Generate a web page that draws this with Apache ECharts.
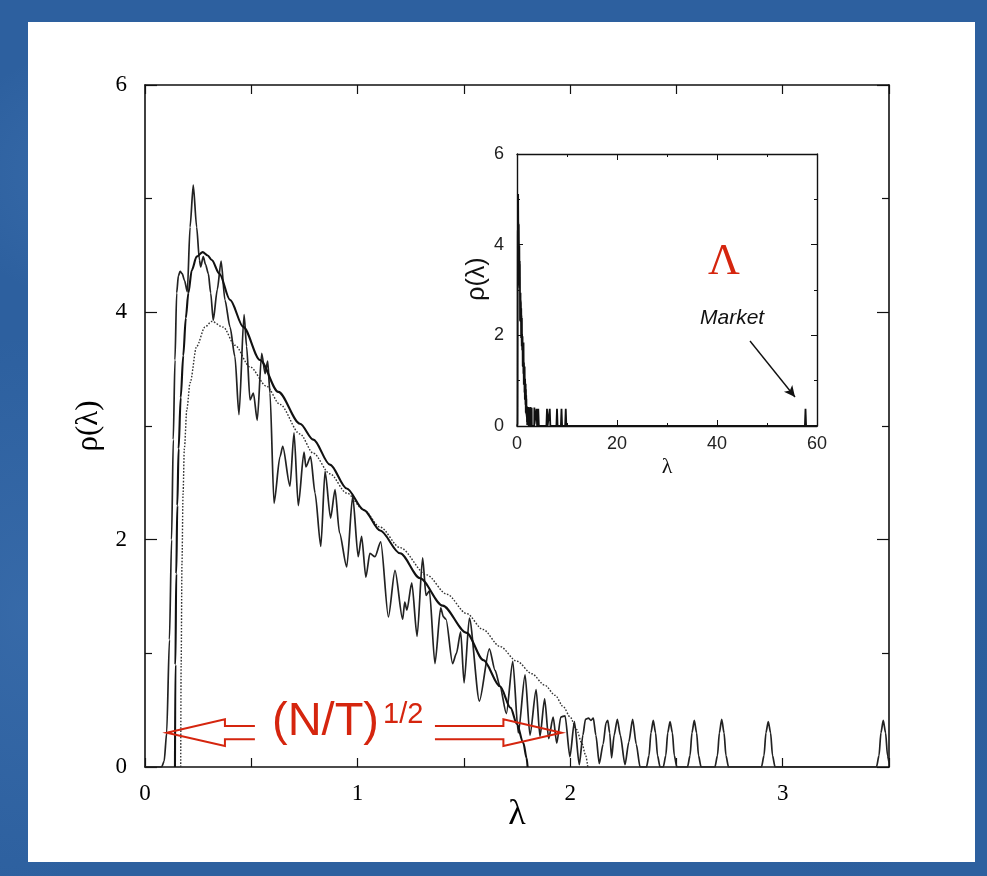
<!DOCTYPE html>
<html>
<head>
<meta charset="utf-8">
<title>Eigenvalue density</title>
<script src="https://cdn.jsdelivr.net/npm/echarts@6/dist/echarts.min.js"></script>
<style>
  html, body { margin: 0; padding: 0; width: 987px; height: 876px; overflow: hidden; }
  body {
    background:
      radial-gradient(ellipse 300px 200px at 15% 20%, rgba(120,170,230,.18), transparent 70%),
      radial-gradient(ellipse 260px 320px at 85% 75%, rgba(20,50,100,.25), transparent 70%),
      radial-gradient(ellipse 200px 400px at 2% 70%, rgba(110,160,220,.15), transparent 70%),
      #2d609f;
  }
  #panel { position: absolute; left: 28px; top: 22px; width: 947px; height: 840px; background: #fff; }
  #chart { position: absolute; left: 0; top: 0; width: 987px; height: 876px; }
</style>
</head>
<body>
<div id="panel"></div>
<div id="chart"></div>
<script>
/* ===== Data ===== */

// empirical eigenvalue density, [lambda, rho]
const EMPIRICAL = [
  [0, 0], [0.078, 0], [0.090, 0.05], [0.102, 0.30], [0.115, 1.12], [0.125, 2.0], [0.133, 2.88],
  [0.141, 3.58], [0.149, 4.17], [0.157, 4.32], [0.165, 4.36], [0.175, 4.34], [0.186, 4.28],
  [0.199, 4.18], [0.212, 4.75], [0.227, 5.12], [0.243, 4.75], [0.256, 4.46], [0.262, 4.40],
  [0.274, 4.49], [0.285, 4.42], [0.298, 4.34], [0.309, 4.17], [0.321, 3.93], [0.340, 4.20],
  [0.358, 4.45], [0.376, 4.11], [0.400, 3.87], [0.423, 3.61], [0.442, 3.10], [0.466, 3.98],
  [0.478, 3.70], [0.494, 3.23], [0.510, 3.29], [0.528, 3.05], [0.549, 3.64], [0.565, 3.46],
  [0.577, 3.57], [0.588, 3.29], [0.607, 2.32], [0.635, 2.73], [0.648, 2.82], [0.682, 2.47],
  [0.701, 2.94], [0.721, 2.30], [0.748, 2.77], [0.757, 2.64], [0.779, 2.73], [0.800, 2.41],
  [0.827, 1.94], [0.847, 2.60], [0.873, 2.19], [0.894, 2.44], [0.915, 2.06], [0.949, 1.76],
  [0.977, 2.38], [1.003, 1.85], [1.019, 2.03], [1.039, 1.67], [1.058, 1.88], [1.082, 1.85],
  [1.109, 1.98], [1.145, 1.32], [1.176, 1.73], [1.212, 1.30], [1.222, 1.45], [1.232, 1.38],
  [1.255, 1.62], [1.280, 1.15], [1.306, 1.84], [1.322, 1.51], [1.338, 1.55], [1.364, 0.91],
  [1.391, 1.40], [1.404, 1.32], [1.416, 1.30], [1.447, 0.91], [1.465, 1.00], [1.485, 1.19],
  [1.501, 0.74], [1.526, 1.31], [1.573, 0.58], [1.620, 1.04], [1.647, 0.85], [1.670, 0.71],
  [1.700, 0.47], [1.730, 0.93], [1.756, 0.30], [1.788, 0.81], [1.811, 0.28], [1.840, 0.68],
  [1.858, 0.27], [1.880, 0.60], [1.899, 0.25], [1.920, 0.44], [1.937, 0.21], [1.956, 0.44],
  [1.976, 0.45], [1.999, 0.09], [2.020, 0.40], [2.043, 0.02], [2.060, 0.28], [2.072, 0.42],
  [2.086, 0.43], [2.098, 0.41], [2.109, 0.43], [2.121, 0.28], [2.137, 0.03], [2.155, 0.20],
  [2.169, 0.39], [2.177, 0.41], [2.186, 0.30], [2.195, 0.08], [2.207, 0.28], [2.222, 0.42],
  [2.236, 0.28], [2.258, 0.02], [2.276, 0.22], [2.294, 0.42], [2.311, 0.20], [2.329, 0],
  [2.359, 0], [2.371, 0.10], [2.380, 0.30], [2.391, 0.41], [2.402, 0.30], [2.411, 0.10], [2.423, 0],
  [2.438, 0], [2.450, 0.10], [2.459, 0.30], [2.470, 0.40], [2.481, 0.30], [2.490, 0.10], [2.502, 0],
  [2.552, 0], [2.564, 0.10], [2.573, 0.30], [2.584, 0.41], [2.595, 0.30], [2.604, 0.10], [2.616, 0],
  [2.681, 0], [2.693, 0.10], [2.702, 0.30], [2.713, 0.42], [2.724, 0.30], [2.733, 0.10], [2.745, 0],
  [2.900, 0], [2.912, 0.10], [2.921, 0.30], [2.932, 0.40], [2.943, 0.30], [2.952, 0.10], [2.964, 0],
  [3.441, 0], [3.453, 0.10], [3.462, 0.30], [3.473, 0.41], [3.484, 0.30], [3.493, 0.10], [3.500, 0.04]
];

// fitted density (solid)
const FIT = [
  [0.141, 0], [0.143, 0.9], [0.147, 1.7], [0.152, 2.3], [0.158, 2.8], [0.168, 3.25],
  [0.180, 3.62], [0.192, 3.95], [0.204, 4.17], [0.220, 4.37], [0.243, 4.49], [0.271, 4.53],
  [0.295, 4.50], [0.314, 4.46], [0.350, 4.34], [0.400, 4.11], [0.463, 3.87], [0.541, 3.58],
  [0.627, 3.30], [0.729, 3.02], [0.792, 2.88], [0.870, 2.66], [0.949, 2.45], [1.030, 2.26],
  [1.106, 2.08], [1.200, 1.88], [1.294, 1.66], [1.400, 1.42], [1.513, 1.18], [1.592, 0.94],
  [1.670, 0.71], [1.720, 0.52], [1.749, 0.38], [1.780, 0.21], [1.795, 0.08], [1.800, 0]
];

// random-matrix prediction (dotted)
const RMT = [
  [0.168, 0], [0.170, 0.9], [0.174, 1.8], [0.179, 2.4], [0.185, 2.8], [0.197, 3.15],
  [0.212, 3.38], [0.243, 3.70], [0.282, 3.87], [0.314, 3.92], [0.368, 3.87], [0.423, 3.71],
  [0.494, 3.52], [0.572, 3.35], [0.635, 3.19], [0.729, 2.93], [0.792, 2.76], [0.870, 2.58],
  [0.949, 2.41], [1.030, 2.26], [1.106, 2.11], [1.200, 1.93], [1.325, 1.69], [1.420, 1.52],
  [1.513, 1.35], [1.590, 1.21], [1.670, 1.06], [1.750, 0.93], [1.820, 0.82], [1.880, 0.72],
  [1.930, 0.63], [1.968, 0.53], [2.000, 0.44], [2.030, 0.33], [2.055, 0.21], [2.072, 0.11],
  [2.083, 0]
];

// large eigenvalues only visible in the inset
const OUTLIERS = [3.9, 4.25, 6.0, 6.55, 8.0, 8.9, 9.75, 57.7];
const OUTLIER_RHO = [0.38, 0.38, 0.38, 0.38, 0.38, 0.38, 0.38, 0.38];

const MAIN_X_LABELS = [0, 1, 2, 3];
const MAIN_Y_LABELS = [0, 2, 4, 6];

(function() {
  "use strict";

  const RED = "#d5250e";
  const INK = "#111";
  const SERIF = "'Liberation Serif', 'DejaVu Serif', serif";
  const SANS = "'Liberation Sans', Arial, sans-serif";

  const chart = echarts.init(document.getElementById("chart"), null, { renderer: "canvas" });

  /* ---- Axes helpers ---- */
  function frameAxis(extra) {
    return Object.assign({
      type: "value",
      axisLine: { show: true, onZero: false, lineStyle: { color: INK, width: 1.6 } },
      axisTick: { show: true, inside: true, length: 9, lineStyle: { color: INK, width: 1.2 } },
      splitLine: { show: false },
      axisLabel: { show: false }
    }, extra);
  }
  const onlyIn = list => v => list.includes(Math.round(v * 1000) / 1000) ? String(v) : "";
  const insetLine = { show: true, onZero: false, lineStyle: { color: INK, width: 1.4 } };
  const insetTick = { show: true, inside: true, length: 6, lineStyle: { color: INK } };
  const insetMinor = { show: true, splitNumber: 2, length: 3, lineStyle: { color: INK } };
  const mainTick = { show: true, inside: true, length: 12, lineStyle: { color: INK, width: 1.2 } };
  const mainMinor = { show: true, splitNumber: 2, length: 7, lineStyle: { color: INK, width: 1.2 } };

  const insetData = EMPIRICAL.concat(
    ...OUTLIERS.map((x, i) => [[x - 0.12, 0], [x, OUTLIER_RHO[i]], [x + 0.12, 0]]),
    [[60, 0]]
  );

  const mainLabel = { show: true, color: "#000", fontFamily: SERIF, fontSize: 23 };
  const insetLabel = { show: true, color: "#222", fontFamily: SANS, fontSize: 18 };

  chart.setOption({
    backgroundColor: "transparent",
    animation: false,
    grid: [
      { left: 145, top: 85, width: 744, height: 682 },
      { left: 517, top: 154, width: 300, height: 272, backgroundColor: "#fff", show: true, borderWidth: 0 }
    ],
    xAxis: [
      frameAxis({ gridIndex: 0, position: "bottom", min: 0, max: 3.5, interval: 0.5,
        axisLabel: Object.assign({}, mainLabel, { margin: 15, formatter: onlyIn(MAIN_X_LABELS) }),
        name: "λ", nameLocation: "middle", nameGap: 30, nameMoveOverlap: false,
        nameTextStyle: { fontFamily: SERIF, fontSize: 36, color: "#000" } }),
      frameAxis({ gridIndex: 0, position: "top", min: 0, max: 3.5, interval: 0.5 }),
      frameAxis({ gridIndex: 1, position: "bottom", min: 0, max: 60, interval: 20,
        axisLine: insetLine, axisTick: insetTick, minorTick: insetMinor,
        axisLabel: Object.assign({}, insetLabel, { margin: 9 }),
        name: "λ", nameLocation: "middle", nameGap: 30,
        nameTextStyle: { fontFamily: SERIF, fontSize: 22, color: "#111" } }),
      frameAxis({ gridIndex: 1, position: "top", min: 0, max: 60, interval: 20,
        axisLine: insetLine, axisTick: insetTick, minorTick: insetMinor })
    ],
    yAxis: [
      frameAxis({ gridIndex: 0, position: "left", min: 0, max: 6, interval: 2,
        axisTick: mainTick, minorTick: mainMinor,
        axisLabel: Object.assign({}, mainLabel, { margin: 18, formatter: onlyIn(MAIN_Y_LABELS) }),
        name: "ρ(λ)", nameLocation: "middle", nameGap: 40,
        nameTextStyle: { fontFamily: SERIF, fontSize: 31, color: "#000" } }),
      frameAxis({ gridIndex: 0, position: "right", min: 0, max: 6, interval: 2,
        axisTick: mainTick, minorTick: mainMinor }),
      frameAxis({ gridIndex: 1, position: "left", min: 0, max: 6, interval: 2,
        axisLine: insetLine, axisTick: insetTick, minorTick: insetMinor,
        axisLabel: Object.assign({}, insetLabel, { margin: 13 }),
        name: "ρ(λ)", nameLocation: "middle", nameGap: 27,
        nameTextStyle: { fontFamily: SANS, fontSize: 25, color: "#111", padding: [0, 0, 0, 22] } }),
      frameAxis({ gridIndex: 1, position: "right", min: 0, max: 6, interval: 2,
        axisLine: insetLine, axisTick: insetTick, minorTick: insetMinor })
    ],
    series: [
      { name: "empirical", type: "line", xAxisIndex: 0, yAxisIndex: 0, data: EMPIRICAL,
        showSymbol: false, smooth: 0.25, smoothMonotone: "x",
        lineStyle: { color: "#222", width: 1.7 }, z: 3 },
      { name: "fit", type: "line", xAxisIndex: 0, yAxisIndex: 0, data: FIT,
        showSymbol: false, smooth: 0.3, smoothMonotone: "x",
        lineStyle: { color: "#111", width: 2.1 }, z: 4 },
      { name: "rmt", type: "line", xAxisIndex: 0, yAxisIndex: 0, data: RMT,
        showSymbol: false, smooth: 0.3, smoothMonotone: "x",
        lineStyle: { color: "#333", width: 1.4, type: [1.6, 1.6] }, z: 2 },
      { name: "inset", type: "line", xAxisIndex: 2, yAxisIndex: 2, data: insetData,
        showSymbol: false, lineStyle: { color: "#111", width: 1.8 }, z: 5,
        markLine: {
          silent: true, symbol: ["none", "arrow"], symbolSize: [8, 11],
          lineStyle: { color: "#111", width: 1.4, type: "solid" }, label: { show: false },
          data: [[{ coord: [46.6, 1.875] }, { coord: [55.6, 0.64] }]]
        } }
    ]
  });

  /* ---- Annotations (hollow double arrows + labels) ---- */
  function px(x, y) { return chart.convertToPixel({ gridIndex: 0 }, [x, y]); }
  function hollowArrow(tail, base, tip, shaftHalf, headHalf) {
    const yc = tip[1];
    const pts = [
      [tail, yc + shaftHalf], [base, yc + shaftHalf], [base, yc + headHalf], tip,
      [base, yc - headHalf], [base, yc - shaftHalf], [tail, yc - shaftHalf]
    ];
    return pts.map(p => px(p[0], p[1]));
  }
  const arrowStyle = { stroke: RED, lineWidth: 2, fill: null };

  chart.setOption({
    graphic: [
      { type: "polyline", shape: { points: hollowArrow(0.517, 0.376, [0.102, 0.302], 0.058, 0.118) }, style: arrowStyle, z: 10 },
      { type: "polyline", shape: { points: hollowArrow(1.364, 1.686, [1.960, 0.302], 0.058, 0.118) }, style: arrowStyle, z: 10 },
      { type: "text", left: 272, top: 699, z: 10,
        style: { text: "(N/T)", fill: RED, font: "47px " + SANS } },
      { type: "text", left: 383, top: 700, z: 10,
        style: { text: "1/2", fill: RED, font: "29px " + SANS } },
      { type: "text", left: 708, top: 240, z: 10,
        style: { text: "Λ", fill: RED, font: "44px " + SERIF } },
      { type: "text", left: 700, top: 308, z: 10,
        style: { text: "Market", fill: "#111", font: "italic 21px " + SANS } }
    ]
  });
})();
</script>
</body>
</html>
